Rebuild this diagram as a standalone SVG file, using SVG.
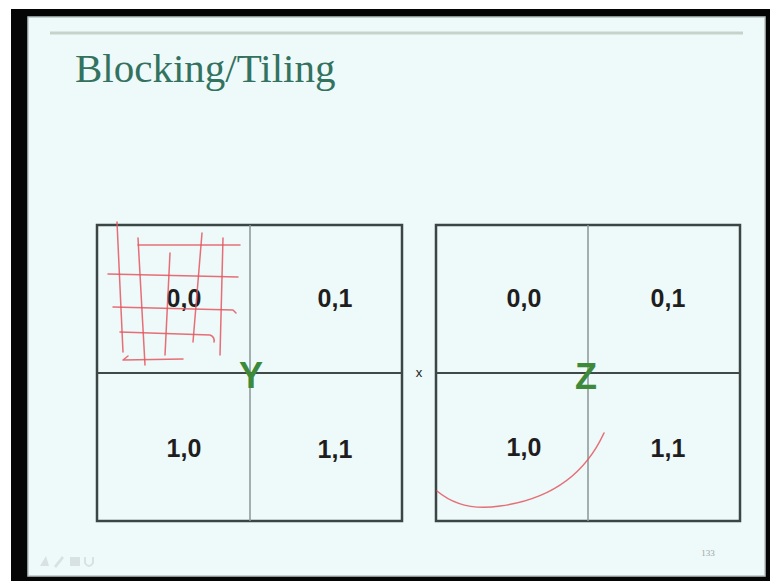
<svg xmlns="http://www.w3.org/2000/svg" width="770" height="581" viewBox="0 0 770 581">
  <style>
    .frame { fill: none; stroke: #3b4544; stroke-width: 2.5; }
    .hdiv { stroke: #3f4948; stroke-width: 2; }
    .vdiv { stroke: #8a9695; stroke-width: 1.5; }
    .lbl { font-family: "Liberation Sans", Arial, sans-serif; font-weight: bold; font-size: 25px; fill: #1e1e1e; text-anchor: middle; }
    .mat { font-family: "Liberation Sans", Arial, sans-serif; font-weight: bold; font-size: 36px; fill: #3d8a3a; text-anchor: middle; }
    .ink { fill: none; stroke: #e4565f; stroke-width: 1.5; stroke-linecap: round; stroke-linejoin: round; opacity: 0.85; }
  </style>
  <rect x="0" y="0" width="770" height="581" fill="#ffffff"/>
  <rect x="11" y="9" width="759" height="572" fill="#050505"/>
  <rect x="28" y="17" width="737" height="559" fill="#eef9f9" stroke="#b9c4c3" stroke-width="1.5"/>
  <line x1="50" y1="33" x2="743" y2="33" stroke="#c6d3ca" stroke-width="3"/>
  <text x="75" y="82" font-family="'Liberation Serif', 'Times New Roman', serif" font-size="41" fill="#33725f">Blocking/Tiling</text>

  <g id="matrixY">
    <rect class="frame" x="97" y="225" width="305" height="296"/>
    <line class="vdiv" x1="250" y1="225" x2="250" y2="521"/>
    <line class="hdiv" x1="97" y1="373" x2="402" y2="373"/>
    <text class="lbl" x="184" y="307">0,0</text>
    <text class="lbl" x="335" y="307">0,1</text>
    <text class="lbl" x="184" y="457">1,0</text>
    <text class="lbl" x="335" y="458">1,1</text>
    <text class="mat" x="251" y="388">Y</text>
  </g>

  <g id="times">
    <text x="419" y="377" font-family="'Liberation Sans', Arial, sans-serif" font-size="13" fill="#222" text-anchor="middle">x</text>
  </g>

  <g id="matrixZ">
    <rect class="frame" x="436" y="225" width="304" height="296"/>
    <line class="vdiv" x1="588" y1="225" x2="588" y2="521"/>
    <line class="hdiv" x1="436" y1="373" x2="740" y2="373"/>
    <text class="lbl" x="524" y="307">0,0</text>
    <text class="lbl" x="668" y="307">0,1</text>
    <text class="lbl" x="524" y="456">1,0</text>
    <text class="lbl" x="668" y="457">1,1</text>
    <text class="mat" x="586" y="389">Z</text>
  </g>

  <g id="annotations">
    <path class="ink" d="M117,222 L123,352"/>
    <path class="ink" d="M138,238 L145,365"/>
    <path class="ink" d="M170,253 L165,355"/>
    <path class="ink" d="M202,233 L193,342"/>
    <path class="ink" d="M223,238 L220,355"/>
    <path class="ink" d="M138,245 L240,245"/>
    <path class="ink" d="M108,274 L238,277"/>
    <path class="ink" d="M113,307 L233,310 L236,313"/>
    <path class="ink" d="M120,332 L210,335 Q215,337 214,342"/>
    <path class="ink" d="M128,356 L123,360 L183,359"/>
    <path class="ink" d="M437,491 Q462,512 500,506 Q575,496 604,433"/>
  </g>

  <g id="footer" fill="#d9e2e2">
    <polygon points="40,566 46,556 49,566"/>
    <polygon points="54,566 62,556 64,558 56,568"/>
    <rect x="70" y="557" width="10" height="9"/>
    <path d="M85,557 L85,563 Q89,569 93,563 L93,557" fill="none" stroke="#d9e2e2" stroke-width="2"/>
    <text x="708" y="556" font-family="'Liberation Serif', serif" font-size="9" fill="#9aa5a5" text-anchor="middle">133</text>
  </g>
</svg>
